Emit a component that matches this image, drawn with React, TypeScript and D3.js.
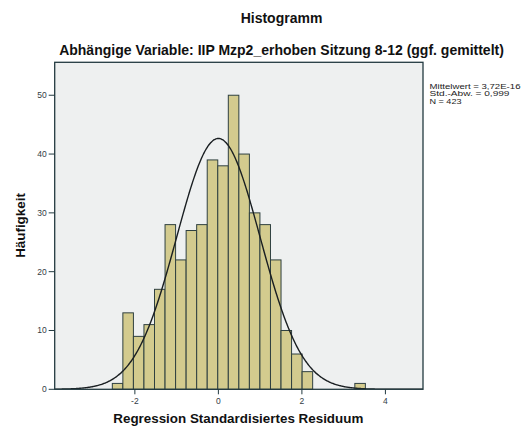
import React from "react";
import * as d3 from "d3";

// Histogram counts per bin (bin width ~0.2525, first bin starting at -2.54)
const binCounts = [1, 13, 9, 11, 17, 28, 22, 27, 28, 39, 38, 50, 40, 30, 28, 22, 10, 6, 3, 0, 0, 0, 0, 1];
const binStart = -2.54;
const binWidth = 0.2525;
const xTicks = [-2, 0, 2, 4];
const yTicks = [0, 10, 20, 30, 40, 50];
const meanVal = 0;
const sdVal = 0.999;
const nVal = 423;
const legendLines = ["Mittelwert = 3,72E-16", "Std.-Abw. = 0,999", "N = 423"];
const legendWidths = [91, 80, 32];

const W = 521;
const H = 434;
const left = 54.7;
const right = 423;
const top = 62.3;
const bottom = 389.3;

export default function App() {
  const x = d3.scaleLinear().domain([-3.92, 4.9]).range([left, right]);
  const y = d3.scaleLinear().domain([0, 55.6]).range([bottom, top]);

  const bins = binCounts.map((c, i) => ({
    x0: binStart + i * binWidth,
    x1: binStart + (i + 1) * binWidth,
    c,
  }));

  const pts = d3.range(-3.92, 4.9001, 0.02).map((v) => {
    const dens =
      (nVal * binWidth) / (sdVal * Math.sqrt(2 * Math.PI)) *
      Math.exp(-0.5 * Math.pow((v - meanVal) / sdVal, 2));
    return [v, dens] as [number, number];
  });
  const line = d3
    .line<[number, number]>()
    .x((d) => x(d[0]))
    .y((d) => y(d[1]))
    .curve(d3.curveBasis);

  const font = "'Liberation Sans', Arial, sans-serif";
  const axisColor = "#233a40";
  const tickTextColor = "#333d45";

  return (
    <svg
      width={W}
      height={H}
      style={{ position: "absolute", left: 0, top: 0, background: "#fff" }}
      fontFamily={font}
    >
      <rect x={0} y={0} width={W} height={H} fill="#ffffff" />
      <text x={281.5} y={22.5} textAnchor="middle" fontSize={14} fontWeight="bold" fill="#111">
        Histogramm
      </text>
      <text x={281.5} y={55} textAnchor="middle" fontSize={14} fontWeight="bold" fill="#111">
        Abhängige Variable: IIP Mzp2_erhoben Sitzung 8-12 (ggf. gemittelt)
      </text>

      <defs>
        <clipPath id="plotclip">
          <rect x={left} y={top} width={right - left} height={bottom - top} />
        </clipPath>
      </defs>

      <rect x={left} y={top} width={right - left} height={bottom - top} fill="#eef0f0" />

      <g>
        {bins
          .filter((b) => b.c > 0)
          .map((b, i) => (
            <rect
              key={i}
              x={x(b.x0)}
              y={y(b.c)}
              width={x(b.x1) - x(b.x0)}
              height={y(0) - y(b.c)}
              fill="#d3cb8e"
              stroke="#2f4040"
              strokeWidth={1}
            />
          ))}
      </g>

      <path
        d={line(pts) || ""}
        fill="none"
        stroke="#1a1f22"
        strokeWidth={1.4}
        clipPath="url(#plotclip)"
      />

      <rect
        x={left}
        y={top}
        width={right - left}
        height={bottom - top}
        fill="none"
        stroke={axisColor}
        strokeWidth={1.3}
      />

      {yTicks.map((t) => (
        <g key={"y" + t}>
          <line x1={left - 6} x2={left} y1={y(t)} y2={y(t)} stroke={axisColor} strokeWidth={1} />
          <text
            x={left - 8}
            y={y(t)}
            dy="0.35em"
            textAnchor="end"
            fontSize={8.5}
            fill={tickTextColor}
          >
            {t}
          </text>
        </g>
      ))}

      {xTicks.map((t) => (
        <g key={"x" + t}>
          <line x1={x(t)} x2={x(t)} y1={bottom} y2={bottom + 5} stroke={axisColor} strokeWidth={1} />
          <text x={x(t)} y={bottom + 15} textAnchor="middle" fontSize={8.5} fill={tickTextColor}>
            {t}
          </text>
        </g>
      ))}

      <text
        x={238.3}
        y={423}
        textAnchor="middle"
        fontSize={13.4}
        fontWeight="bold"
        fill="#111"
      >
        Regression Standardisiertes Residuum
      </text>
      <text
        transform="translate(25,225.5) rotate(-90)"
        textAnchor="middle"
        fontSize={13.4}
        fontWeight="bold"
        fill="#111"
      >
        Häufigkeit
      </text>

      {legendLines.map((s, i) => (
        <text
          key={s}
          x={429.5}
          y={88.5 + i * 7.5}
          fontSize={7.5}
          fill="#222"
          textLength={legendWidths[i]}
          lengthAdjust="spacingAndGlyphs"
        >
          {s}
        </text>
      ))}
    </svg>
  );
}
